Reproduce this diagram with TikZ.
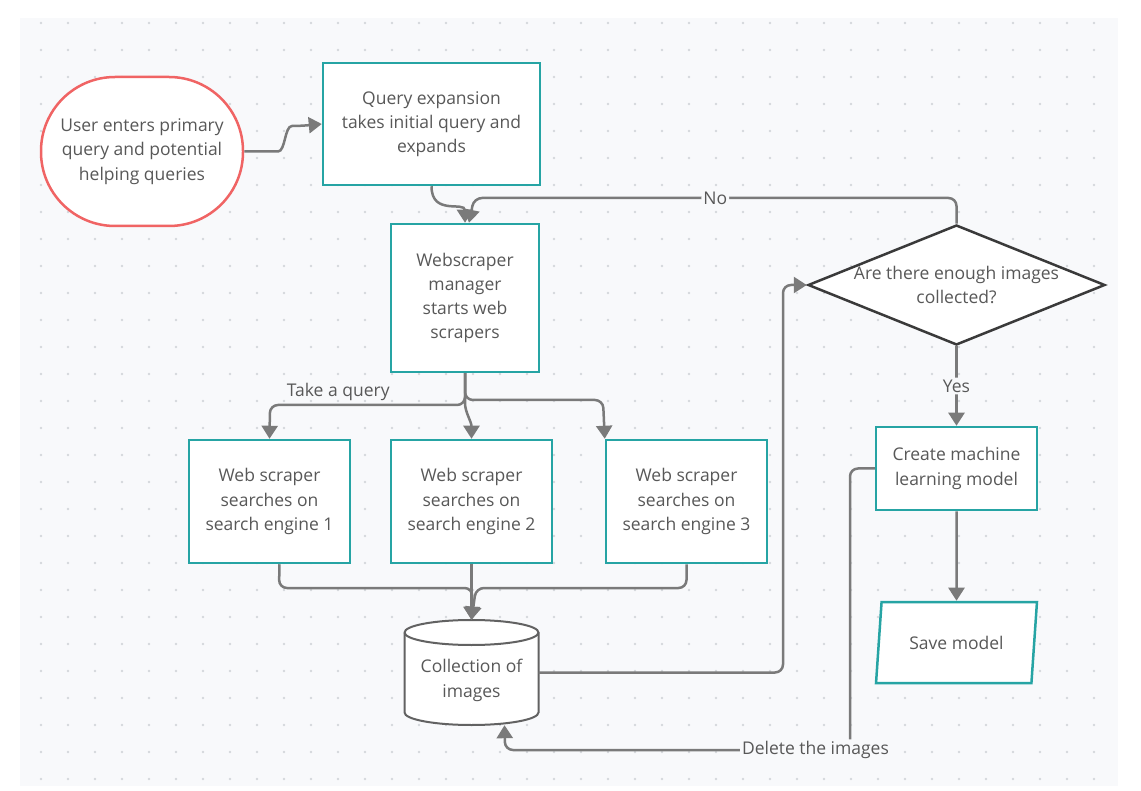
\documentclass[tikz,border=0pt]{standalone}
\usepackage{fontspec}
\setmainfont{Open Sans}
\usetikzlibrary{arrows.meta,shapes.geometric}

\definecolor{boxteal}{RGB}{38,164,164}
\definecolor{startred}{RGB}{240,100,100}
\definecolor{linegrey}{RGB}{122,122,122}
\definecolor{textgrey}{RGB}{88,88,88}
\definecolor{darkline}{RGB}{58,58,58}
\definecolor{storegrey}{RGB}{98,98,98}
\definecolor{bggrey}{RGB}{248,249,251}
\definecolor{dotgrey}{RGB}{212,215,220}

\begin{document}
\begin{tikzpicture}[x=1pt,y=-1pt,
    font=\fontsize{17.5}{24.3}\selectfont, text=textgrey,
    process/.style={draw=boxteal,line width=2.5pt,fill=white,align=center,inner sep=0pt},
    flow/.style={draw=linegrey,line width=2.5pt,rounded corners=8pt,
      -{Triangle[width=16pt,length=13pt]}},
    lab/.style={fill=bggrey,inner sep=2pt,text=textgrey}]

  % page and dotted grid
  \useasboundingbox (0,0) rectangle (1141,791);
  \fill[white] (0,0) rectangle (1141,791);
  \fill[bggrey] (20,18) rectangle (1118,786);
  \foreach \dx in {0,...,39}{
    \foreach \dy in {0,...,28}{
      \fill[dotgrey] (41+27*\dx,23+27*\dy) circle [radius=1.3pt];
    }
  }

  % nodes
  \node[draw=startred,line width=2.5pt,fill=white,rounded corners=74pt,
    minimum width=202pt,minimum height=149pt,align=center] (user) at (142,151.5)
    {User enters primary\\query and potential\\helping queries};
  \node[process,minimum width=217pt,minimum height=122pt] (query) at (431.5,124)
    {Query expansion\\takes initial query and\\expands};
  \node[process,minimum width=148pt,minimum height=148pt] (manager) at (465,298)
    {Webscraper\\manager\\starts web\\scrapers};
  \node[process,minimum width=161pt,minimum height=123pt] (scraperA) at (269.5,501.5)
    {Web scraper\\searches on\\search engine 1};
  \node[process,minimum width=161pt,minimum height=123pt] (scraperB) at (471.5,501.5)
    {Web scraper\\searches on\\search engine 2};
  \node[process,minimum width=161pt,minimum height=123pt] (scraperC) at (686.5,501.5)
    {Web scraper\\searches on\\search engine 3};

  \node[diamond,draw=darkline,line width=2.5pt,fill=white,inner sep=0pt,
    minimum width=297pt,minimum height=120pt] (check) at (956.5,285) {};
  \node[align=center] (checktext) at (check) {Are there enough images\\collected?};
  \node[process,minimum width=161pt,minimum height=83pt] (create) at (956.5,468.5)
    {Create machine\\learning model};
  \node[trapezium,trapezium left angle=75.5,trapezium right angle=104.5,
    trapezium stretches=true,draw=boxteal,line width=2.5pt,fill=white,inner sep=0pt,
    minimum width=161pt,minimum height=81pt] (save) at (956.5,642.5) {Save model};

  % image store
  \coordinate (store) at (471.5,672.5);
  \draw[storegrey,line width=2pt,fill=white]
    ([shift={(-67pt,40pt)}]store) -- ([shift={(-67pt,-40pt)}]store)
    arc [start angle=180,end angle=360,x radius=67pt,y radius=12.5pt]
    -- ([shift={(67pt,40pt)}]store)
    arc [start angle=0,end angle=180,x radius=67pt,y radius=12.5pt] -- cycle;
  \draw[storegrey,line width=2pt] ([shift={(-67pt,40pt)}]store)
    arc [start angle=180,end angle=360,x radius=67pt,y radius=12.5pt];
  \node[minimum width=134pt,minimum height=105pt,align=center] (coll) at (store)
    {\\[5pt]Collection of\\images};

  % connectors
  \draw[flow] (user.east) -- (270,151.5) to[out=0,in=180] (300,126) -- (query.west);
  \draw[flow] (query.south) .. controls +(0,30) and +(0,-22) .. (manager.north);
  \draw[flow] (check.north) -- (956.5,198) -- node[lab] {No} (474,198)
    -- ([xshift=4pt]manager.north);
  \draw[flow] (check.south) -- node[lab] {Yes} (create.north);
  \draw[flow] (create.south) -- (save.north);

  \draw[flow] (manager.south) -- (465,405) -- node[above,pos=0.65] {Take a query}
    (270,405) -- (scraperA.north);
  \draw[flow] (manager.south) -- (465,395) to[out=-90,in=90] (scraperB.north);
  \draw[flow] (manager.south) -- (465,400) -- (603,400) -- (scraperC.north west);

  \draw[flow] ([xshift=10pt]scraperA.south) -- (279,588) -- (472.5,588) -- (coll.north);
  \draw[flow] (scraperB.south) -- (coll.north);
  \draw[flow] (scraperC.south) -- (686.5,588) -- (476,588) -- (coll.north);

  \draw[flow] (coll.east) -- (783,672.5) -- (783,285) -- (check.west);
  \draw[flow] (create.west) -- (850,468.5) -- (850,750)
    -- node[lab,pos=0.1] {Delete the images} (505,750) -- ([xshift=33pt]coll.south);
\end{tikzpicture}
\end{document}
